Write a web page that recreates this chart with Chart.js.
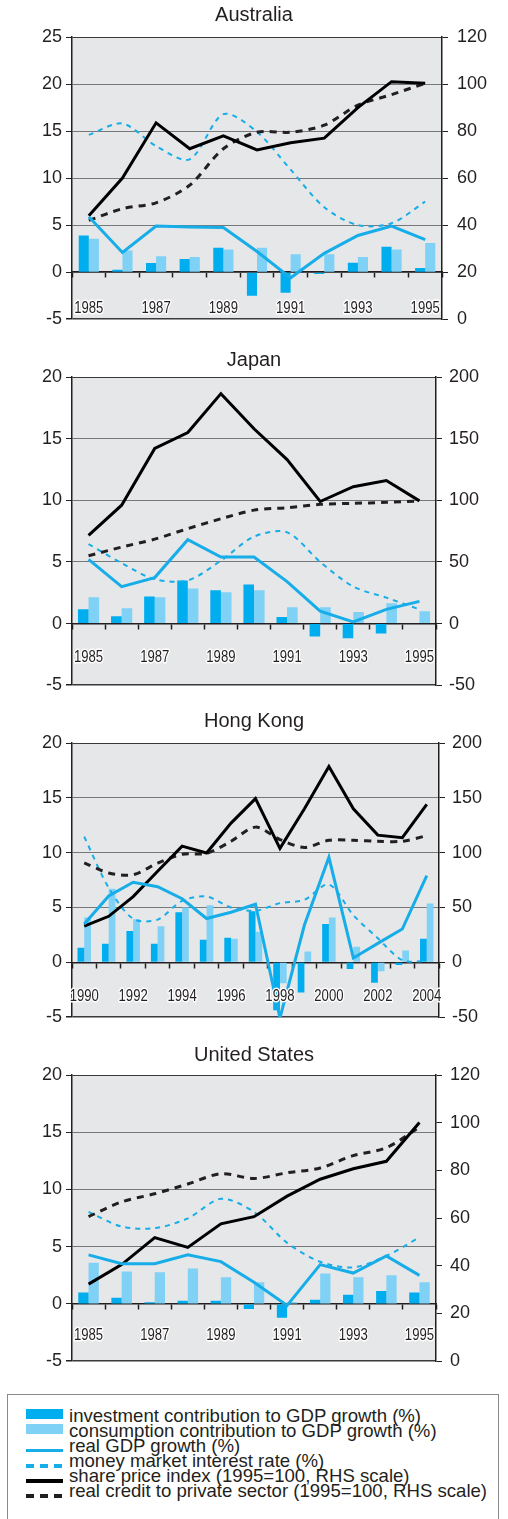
<!DOCTYPE html>
<html>
<head>
<meta charset="utf-8">
<script src="https://cdn.jsdelivr.net/npm/chart.js@4.4.1/dist/chart.umd.min.js"></script>
<style>
  html, body { margin: 0; padding: 0; background: #fff; }
  body { width: 508px; height: 1519px; position: relative; overflow: hidden; font-family: "Liberation Sans", Arial, sans-serif; color: #231f20; }
  canvas { position: absolute; left: 0; }
  #legend { position: absolute; left: 7px; top: 1394px; width: 492px; height: 140px; border: 1px solid #8a8a8a; box-sizing: border-box; }
  .sw { position: absolute; left: 26px; width: 37px; }
  .txt { position: absolute; left: 69px; font-size: 18.6px; line-height: 20px; height: 20px; white-space: nowrap; }
</style>
</head>
<body>
<canvas id="au" width="508" height="339" style="top:0px"></canvas>
<canvas id="jp" width="508" height="358" style="top:345px"></canvas>
<canvas id="hk" width="508" height="329" style="top:706px"></canvas>
<canvas id="us" width="508" height="340" style="top:1040px"></canvas>

<div id="legend"></div>

<script>
// years
const years8595 = ['1985', '1986', '1987', '1988', '1989', '1990', '1991', '1992', '1993', '1994', '1995'];
const years9004 = ['1990', '1991', '1992', '1993', '1994', '1995', '1996', '1997', '1998', '1999', '2000', '2001', '2002', '2003', '2004'];

// Australia
const invAU = [3.9, 0.25, 0.97, 1.4, 2.6, -2.5, -2.2, -0.2, 1.0, 2.7, 0.45];
const consAU = [3.55, 2.3, 1.7, 1.6, 2.4, 2.6, 1.9, 1.9, 1.6, 2.4, 3.1];
const gdpAU = [5.9, 2.1, 4.9, 4.8, 4.75, 2.2, -0.6, 2.0, 3.9, 4.9, 3.45];
const rateAU = [14.6, 15.8, 13.4, 12.0, 16.8, 14.9, 10.9, 6.9, 5.0, 5.2, 7.5];
const shareAU = [44, 60, 83.5, 72.5, 78, 72, 75, 77, 90, 101, 100.3];
const creditAU = [42, 47, 49.5, 57, 72.5, 79.5, 79.5, 82.5, 91, 95.5, 100.3];

// Japan
const invJP = [1.17, 0.6, 2.2, 3.5, 2.7, 3.17, 0.53, -1.04, -1.2, -0.8, 0];
const consJP = [2.13, 1.25, 2.13, 2.85, 2.53, 2.7, 1.33, 1.33, 0.93, 1.65, 1.0];
const gdpJP = [5.2, 3.0, 3.73, 6.8, 5.4, 5.4, 3.4, 1.0, 0.13, 1.15, 1.8];
const rateJP = [6.45, 4.9, 3.6, 3.5, 5.1, 7.05, 7.4, 5.0, 3.0, 2.1, 1.15];
const shareJP = [71.5, 96, 142, 155, 186.5, 158, 133, 99, 111, 116, 99.5];
const creditJP = [55, 62, 68.5, 77, 85, 92, 94, 96.7, 97.5, 98.3, 99.5];

// Hong Kong
const invHK = [1.34, 1.7, 2.87, 1.7, 4.57, 2.06, 2.24, 4.66, -4.36, -2.75, 3.5, -0.6, -1.85, -0.24, 2.15];
const consHK = [4.1, 6.7, 3.94, 3.3, 5.0, 5.2, 2.15, 2.78, -1.9, 1.0, 4.1, 1.43, -0.8, 1.07, 5.37];
const gdpHK = [3.5, 6.06, 7.3, 6.9, 5.8, 4.0, 4.57, 5.3, -5.07, 3.4, 9.58, 0.4, 1.73, 3.04, 7.9];
const rateHK = [11.46, 6.8, 3.97, 3.9, 5.6, 6.0, 5.0, 4.7, 5.4, 5.7, 7.1, 4.3, 2.2, 0.2, 0.1];
const shareHK = [33, 42, 60, 83, 106, 99.7, 127, 149.3, 104, 140, 178.5, 140, 116, 113.7, 144];
const creditHK = [90.7, 81.5, 80, 90.4, 98.5, 99.4, 110.4, 123.3, 112, 104.8, 111.3, 111.3, 110.4, 110.4, 115.5];

// United States
const invUS = [1.0, 0.54, 0.14, 0.28, 0.28, -0.45, -1.2, 0.37, 0.8, 1.14, 1.0];
const consUS = [3.6, 2.84, 2.76, 3.1, 2.33, 1.9, 0.17, 2.67, 2.33, 2.5, 1.9];
const gdpUS = [4.29, 3.52, 3.52, 4.29, 3.7, 1.9, -0.14, 3.44, 2.7, 4.2, 2.5];
const rateUS = [8.04, 6.76, 6.62, 7.47, 9.18, 8.04, 5.34, 3.69, 3.2, 4.2, 5.82];
const shareUS = [32.3, 40.5, 51.8, 47.7, 57.6, 60.6, 69.2, 76.3, 80.7, 83.8, 100.1];
const creditUS = [60.6, 66.8, 70.2, 74.3, 78.6, 76.6, 79, 81, 86.2, 89.5, 98.1];

const INV = '#00aeef';
const CONS = '#7fd1f5';
const CYAN = '#16ade9';
const INK = '#231f20';
const FONT = '"Liberation Sans", Arial, sans-serif';

const plotBg = {
  id: 'plotBg',
  beforeDraw(chart) {
    const a = chart.chartArea;
    const ctx = chart.ctx;
    ctx.save();
    ctx.fillStyle = '#e6e7e8';
    ctx.fillRect(a.left, a.top, a.right - a.left, a.bottom - a.top);
    ctx.restore();
  }
};

// year labels are set in a narrow face with a white halo; no narrow font here, so squeeze them
const narrowYears = {
  id: 'narrowYears',
  beforeDraw(chart) {
    const xs = chart.scales.x;
    if (xs._narrowed) return;
    xs._narrowed = true;
    const orig = xs.drawLabels.bind(xs);
    xs.drawLabels = function (area) {
      let items;
      try { items = this.getLabelItems(area); } catch (e) { return orig(area); }
      const ctx = this.ctx;
      for (const item of items) {
        if (!item.label) continue;
        const o = item.options;
        ctx.save();
        ctx.translate(o.translation[0], o.translation[1]);
        ctx.scale(0.82, 1);
        ctx.font = item.font.string;
        ctx.textAlign = 'center';
        ctx.textBaseline = o.textBaseline || 'top';
        ctx.lineJoin = 'round';
        ctx.lineWidth = 3;
        ctx.strokeStyle = '#fff';
        ctx.strokeText(item.label, 0, item.textOffset);
        ctx.fillStyle = INK;
        ctx.fillText(item.label, 0, item.textOffset);
        ctx.restore();
      }
    };
  }
};

function makePanel(id, p) {
  new Chart(document.getElementById(id), {
    type: 'bar',
    data: {
      labels: p.labels,
      datasets: [
        { type: 'line', data: p.gdp, yAxisID: 'y', borderColor: CYAN, borderWidth: 3, pointRadius: 0, tension: 0, order: 0 },
        { type: 'line', data: p.share, yAxisID: 'y1', borderColor: '#000', borderWidth: 3, pointRadius: 0, tension: 0, order: 0 },
        { type: 'line', data: p.credit, yAxisID: 'y1', borderColor: INK, borderWidth: 3, borderDash: [7, 6], pointRadius: 0, tension: 0.3, order: 0 },
        { type: 'line', data: p.rate, yAxisID: 'y', borderColor: CYAN, borderWidth: 2, borderDash: [5, 5], pointRadius: 0, tension: 0.3, order: 0 },
        { data: p.inv, yAxisID: 'y', backgroundColor: INV, categoryPercentage: p.cat, barPercentage: 1, order: 1 },
        { data: p.cons, yAxisID: 'y', backgroundColor: CONS, categoryPercentage: p.cat, barPercentage: 1, order: 1 }
      ]
    },
    options: {
      responsive: false,
      animation: false,
      devicePixelRatio: 1,
      layout: { padding: { top: 3, bottom: 12, left: 0, right: 0 } },
      plugins: {
        legend: { display: false },
        tooltip: { enabled: false },
        title: {
          display: true,
          text: p.title,
          color: INK,
          font: { family: FONT, size: 20, weight: 'normal', lineHeight: 1.2 },
          padding: { top: 0, bottom: p.titleGap }
        }
      },
      scales: {
        x: {
          position: { y: 0 },
          offset: true,
          grid: { offset: true, drawOnChartArea: false, drawTicks: true, tickLength: 5, tickColor: INK, tickWidth: 1.5 },
          border: { display: true, color: INK, width: 1.5 },
          ticks: {
            z: 1,
            autoSkip: false,
            maxRotation: 0,
            padding: p.yearPad,
            color: INK,
            font: { family: FONT, size: 16 },
            callback: (v, i) => (i % 2 === 0 ? p.labels[i] : '')
          }
        },
        y: {
          position: 'left',
          min: p.yMin, max: p.yMax,
          afterFit: s => { s.width = 72; },
          grid: {
            color: c => (c.tick.value === p.yMin || c.tick.value === p.yMax ? '#3a3a3a' : '#77787a'),
            lineWidth: c => (c.tick.value === p.yMin ? 1.5 : 1),
            tickLength: 6, tickColor: INK
          },
          border: { color: INK, width: 1.5 },
          ticks: { stepSize: 5, padding: 4, color: INK, font: { family: FONT, size: 18 } }
        },
        y1: {
          position: 'right',
          min: p.rMin, max: p.rMax,
          afterFit: s => { s.width = p.rWidth; },
          grid: { drawOnChartArea: false, tickLength: 6, tickColor: INK },
          border: { color: INK, width: 1.5 },
          ticks: { stepSize: p.rStep, padding: p.rPad, color: INK, font: { family: FONT, size: 18 } }
        }
      }
    },
    plugins: [plotBg, narrowYears]
  });
}

makePanel('au', {
  title: 'Australia', labels: years8595, titleGap: 10, cat: 0.6, yearPad: 22,
  inv: invAU, cons: consAU, gdp: gdpAU, rate: rateAU, share: shareAU, credit: creditAU,
  yMin: -5, yMax: 25, rMin: 0, rMax: 120, rStep: 20, rWidth: 66, rPad: 9
});
makePanel('jp', {
  title: 'Japan', labels: years8595, titleGap: 5, cat: 0.64, yearPad: 19,
  inv: invJP, cons: consJP, gdp: gdpJP, rate: rateJP, share: shareJP, credit: creditJP,
  yMin: -5, yMax: 20, rMin: -50, rMax: 200, rStep: 50, rWidth: 72, rPad: 7
});
makePanel('hk', {
  title: 'Hong Kong', labels: years9004, titleGap: 10, cat: 0.55, yearPad: 20,
  inv: invHK, cons: consHK, gdp: gdpHK, rate: rateHK, share: shareHK, credit: creditHK,
  yMin: -5, yMax: 20, rMin: -50, rMax: 200, rStep: 50, rWidth: 69, rPad: 7
});
makePanel('us', {
  title: 'United States', labels: years8595, titleGap: 8, cat: 0.62, yearPad: 17,
  inv: invUS, cons: consUS, gdp: gdpUS, rate: rateUS, share: shareUS, credit: creditUS,
  yMin: -5, yMax: 20, rMin: 0, rMax: 120, rStep: 20, rWidth: 72, rPad: 8
});

// legend
const legendNames = [
  'investment contribution to GDP growth (%)',
  'consumption contribution to GDP growth (%)',
  'real GDP growth (%)',
  'money market interest rate (%)',
  'share price index (1995=100, RHS scale)',
  'real credit to private sector (1995=100, RHS scale)'
];
const legendSwatches = [
  'top:1409px;height:10px;background:' + INV,
  'top:1424px;height:10px;background:' + CONS,
  'top:1449px;height:3px;background:' + CYAN,
  'top:1464px;height:4px;background:repeating-linear-gradient(to right,' + CYAN + ' 0 8px,transparent 8px 14px)',
  'top:1479px;height:4px;background:#000',
  'top:1494px;height:4px;background:repeating-linear-gradient(to right,' + INK + ' 0 8px,transparent 8px 14px)'
];
legendNames.forEach((name, i) => {
  const sw = document.createElement('div');
  sw.className = 'sw';
  sw.style.cssText = legendSwatches[i];
  document.body.appendChild(sw);
  const t = document.createElement('div');
  t.className = 'txt';
  t.style.top = (1416 + i * 15 - 10) + 'px';
  t.textContent = name;
  document.body.appendChild(t);
});
</script>
</body>
</html>
